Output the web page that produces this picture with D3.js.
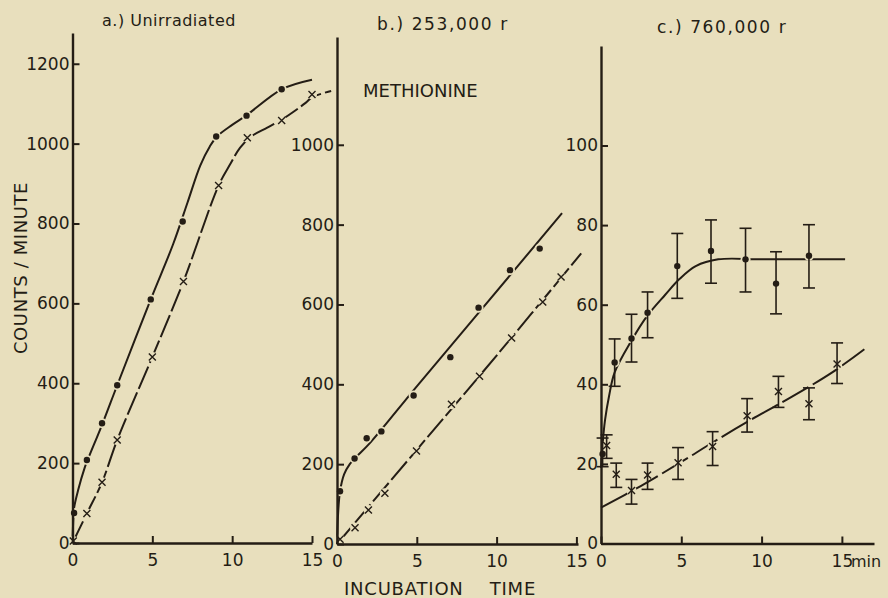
<!DOCTYPE html>
<html>
<head>
<meta charset="utf-8">
<script src="https://cdn.jsdelivr.net/npm/d3@7"></script>
<style>
  body { margin: 0; background: #e8dfbd; }
  svg { display: block; }
  text { font-family: "DejaVu Sans", sans-serif; fill: #241d15; }
</style>
</head>
<body>
<svg id="chart" width="888" height="598"></svg>
<script>
// ---- data (time in min, counts/minute) ----
// a.) Unirradiated
const aDotTime = [0.1, 0.9, 1.85, 2.8, 4.9, 6.9, 9.0, 10.9, 13.1];
const aDotCounts = [75, 208, 300, 395, 610, 805, 1018, 1070, 1136];
const aCrossTime = [0.05, 0.9, 1.85, 2.8, 5.0, 6.95, 9.15, 10.95, 13.1, 15.0];
const aCrossCounts = [5, 74, 152, 258, 466, 655, 895, 1015, 1058, 1123];
// hand drawn curves through the points (knots)
const aDotFitTime = [0, 0.04, 0.1, 0.35, 0.75, 0.95, 1.9, 2.8, 4.9, 6.3, 7.2, 8.0, 8.6, 9.05, 10, 10.9, 13.1, 15];
const aDotFitCounts = [0, 50, 88, 132, 187, 208, 301, 395, 610, 748, 852, 945, 993, 1018, 1047, 1071, 1136, 1160];
const aCrossFitTime = [0, 0.9, 1.85, 2.8, 5.0, 6.95, 9.15, 9.9, 10.5, 11.2, 12.2, 13.1, 14.6, 15.0, 16.2];
const aCrossFitCounts = [0, 74, 152, 258, 466, 655, 895, 950, 990, 1018, 1040, 1060, 1102, 1116, 1132];

// b.) 253,000 r
const bDotTime = [0.19, 1.1, 1.86, 2.78, 4.8, 7.1, 8.87, 10.84, 12.7];
const bDotCounts = [132, 214, 265, 282, 372, 468, 592, 686, 740];
const bCrossTime = [0.19, 1.13, 1.97, 3.0, 4.98, 7.17, 8.93, 10.94, 12.89, 14.04];
const bCrossCounts = [12, 41, 85, 127, 233, 350, 420, 516, 606, 669];
const bDotFitTime = [0, 0.06, 0.19, 0.45, 0.8, 1.2, 2, 5, 9, 14.1];
const bDotFitCounts = [0, 70, 132, 175, 200, 218, 250, 395, 585, 829];
const bCrossFitTime = [0, 5, 10, 15.3];
const bCrossFitCounts = [0, 236, 472, 728];

// c.) 760,000 r  (with error bars)
const cDotTime = [0.1, 0.85, 1.9, 2.9, 4.75, 6.85, 9.0, 10.9, 12.95];
const cDotCounts = [22.5, 45.5, 51.5, 58, 69.7, 73.5, 71.4, 65.3, 72.3];
const cDotLow = [19.3, 39.5, 45.6, 51.7, 61.6, 65.4, 63.2, 57.7, 64.2];
const cDotHigh = [26.5, 51.4, 57.6, 63.2, 77.9, 81.3, 79.2, 73.3, 80.1];
const cCrossTime = [0.35, 0.95, 1.9, 2.9, 4.8, 6.95, 9.1, 11.05, 12.95, 14.7];
const cCrossCounts = [24.6, 17.4, 13.3, 17.2, 20.3, 24.4, 32.1, 38.2, 35.1, 45.1];
const cCrossLow = [21.4, 14.1, 9.9, 13.6, 16.1, 19.6, 28.0, 34.2, 31.1, 40.2];
const cCrossHigh = [27.3, 20.2, 16.1, 20.2, 24.1, 28.1, 36.4, 42.0, 39.1, 50.4];
const cDotFitTime = [0, 0.1, 0.25, 0.5, 0.85, 1.9, 2.9, 4, 4.9, 5.9, 7.3, 10, 15.2];
const cDotFitCounts = [19, 25, 31, 37, 43, 51, 57.3, 62.5, 66.5, 69.7, 71.4, 71.4, 71.4];
const cCrossFitTime = [0, 2.5, 5, 7, 9.3, 11.6, 14.4, 16.4];
const cCrossFitCounts = [9, 14.5, 20.5, 25.5, 31, 36.2, 43, 48.8];

// tick labels
const timeTicks = [0, 5, 10, 15];
const countTicksA = [0, 200, 400, 600, 800, 1000, 1200];
const countTicksB = [0, 200, 400, 600, 800, 1000];
const countTicksC = [0, 20, 40, 60, 80, 100];

const ink = "#241d15";
const bg = "#e8dfbd";

const svg = d3.select("#chart");
svg.append("rect").attr("width", 888).attr("height", 598).attr("fill", bg);

const zip = (xs, ys) => xs.map((x, i) => [x, ys[i]]);

function drawPanel(p) {
    const g = svg.append("g");
    const line = d3.line()
        .x(d => p.x(d[0]))
        .y(d => p.y(d[1]))
        .curve(d3.curveCatmullRom.alpha(0.5));

    // fitted curves
    g.append("path")
        .attr("d", line(zip(p.dotFitTime, p.dotFitCounts)))
        .attr("fill", "none").attr("stroke", ink).attr("stroke-width", 2);
    g.append("path")
        .attr("d", line(zip(p.crossFitTime, p.crossFitCounts)))
        .attr("fill", "none").attr("stroke", ink).attr("stroke-width", 2)
        .attr("stroke-dasharray", p.dash);

    const dots = zip(p.dotTime, p.dotCounts);
    const crosses = zip(p.crossTime, p.crossCounts);

    // little gaps in the curves around the marks
    g.selectAll(".halo")
        .data(dots.concat(crosses))
        .enter().append("circle")
        .attr("cx", d => p.x(d[0]))
        .attr("cy", d => p.y(d[1]))
        .attr("r", 5)
        .attr("fill", bg);

    // error bars
    if (p.dotLow) {
        const bars = zip(p.dotTime, p.dotLow).map((d, i) => [d[0], d[1], p.dotHigh[i]])
            .concat(zip(p.crossTime, p.crossLow).map((d, i) => [d[0], d[1], p.crossHigh[i]]));
        const eb = g.selectAll(".err").data(bars).enter().append("g")
            .attr("stroke", ink).attr("stroke-width", 1.6);
        eb.append("line")
            .attr("x1", d => p.x(d[0])).attr("x2", d => p.x(d[0]))
            .attr("y1", d => p.y(d[1])).attr("y2", d => p.y(d[2]));
        eb.append("line")
            .attr("x1", d => p.x(d[0]) - 6).attr("x2", d => p.x(d[0]) + 6)
            .attr("y1", d => p.y(d[1])).attr("y2", d => p.y(d[1]));
        eb.append("line")
            .attr("x1", d => p.x(d[0]) - 6).attr("x2", d => p.x(d[0]) + 6)
            .attr("y1", d => p.y(d[2])).attr("y2", d => p.y(d[2]));
    }

    g.selectAll(".dot")
        .data(dots)
        .enter().append("circle")
        .attr("cx", d => p.x(d[0]))
        .attr("cy", d => p.y(d[1]))
        .attr("r", 3.2)
        .attr("fill", ink);

    g.selectAll(".cross")
        .data(crosses)
        .enter().append("path")
        .attr("transform", d => `translate(${p.x(d[0])},${p.y(d[1])})`)
        .attr("d", "M-3.5,-3.5L3.5,3.5M-3.5,3.5L3.5,-3.5")
        .attr("stroke", ink).attr("stroke-width", 1.4);

    // axes
    const xAxis = g.append("g")
        .attr("transform", `translate(0,${p.y(0)})`)
        .call(d3.axisBottom(p.x).tickValues(timeTicks).tickFormat(d3.format("d"))
            .tickSizeInner(-7).tickSizeOuter(0).tickPadding(11));
    const yAxis = g.append("g")
        .attr("transform", `translate(${p.x(0)},0)`)
        .call(d3.axisLeft(p.y).tickValues(p.yTicks).tickFormat(d3.format("d"))
            .tickSizeInner(-7).tickSizeOuter(0).tickPadding(3));

    [xAxis, yAxis].forEach(ax => {
        ax.select(".domain").attr("stroke", ink).attr("stroke-width", 2.4);
        ax.selectAll(".tick line").attr("stroke", ink).attr("stroke-width", 2);
        ax.selectAll(".tick text")
            .attr("fill", ink)
            .style("font-size", "17px")
            .style("font-family", "DejaVu Sans, sans-serif");
    });
    return g;
}

// ---- scales ----
const xA = d3.scaleLinear().domain([0, 15]).range([72.5, 312]);
const yA = d3.scaleLinear().domain([0, 1277]).range([543, 33]);
const xB = d3.scaleLinear().domain([0, 15.1]).range([337, 578]);
const yB = d3.scaleLinear().domain([0, 1270]).range([544, 37]);
const xC = d3.scaleLinear().domain([0, 17]).range([601, 874]);
const yC = d3.scaleLinear().domain([0, 125]).range([543.5, 46]);

drawPanel({
    x: xA, y: yA, yTicks: countTicksA, dash: "24,4",
    dotTime: aDotTime, dotCounts: aDotCounts,
    crossTime: aCrossTime, crossCounts: aCrossCounts,
    dotFitTime: aDotFitTime, dotFitCounts: aDotFitCounts,
    crossFitTime: aCrossFitTime, crossFitCounts: aCrossFitCounts
});
drawPanel({
    x: xB, y: yB, yTicks: countTicksB, dash: "24,4",
    dotTime: bDotTime, dotCounts: bDotCounts,
    crossTime: bCrossTime, crossCounts: bCrossCounts,
    dotFitTime: bDotFitTime, dotFitCounts: bDotFitCounts,
    crossFitTime: bCrossFitTime, crossFitCounts: bCrossFitCounts
});
drawPanel({
    x: xC, y: yC, yTicks: countTicksC, dash: "30,5",
    dotTime: cDotTime, dotCounts: cDotCounts,
    dotLow: cDotLow, dotHigh: cDotHigh,
    crossTime: cCrossTime, crossCounts: cCrossCounts,
    crossLow: cCrossLow, crossHigh: cCrossHigh,
    dotFitTime: cDotFitTime, dotFitCounts: cDotFitCounts,
    crossFitTime: cCrossFitTime, crossFitCounts: cCrossFitCounts
});

// ---- titles and labels ----
svg.append("text").attr("x", 102).attr("y", 26)
    .style("font-size", "16px").style("letter-spacing", "0.5px").text("a.) Unirradiated");
svg.append("text").attr("x", 377).attr("y", 30)
    .style("font-size", "17px").style("letter-spacing", "1.6px").text("b.) 253,000 r");
svg.append("text").attr("x", 657).attr("y", 33)
    .style("font-size", "17px").style("letter-spacing", "1.6px").text("c.) 760,000 r");
svg.append("text").attr("x", 363).attr("y", 97).style("font-size", "18px").text("METHIONINE");

svg.append("text")
    .attr("transform", "translate(27,268) rotate(-90)")
    .attr("text-anchor", "middle")
    .style("font-size", "18px")
    .style("letter-spacing", "0.6px")
    .text("COUNTS / MINUTE");

svg.append("text")
    .attr("x", 440).attr("y", 595)
    .attr("text-anchor", "middle")
    .style("font-size", "18px")
    .style("letter-spacing", "0.8px")
    .style("white-space", "pre")
    .text("INCUBATION    TIME");

svg.append("text")
    .attr("x", 851).attr("y", yC(0) + 11 + 17 * 0.71)
    .style("font-size", "16px")
    .text("min");
</script>
</body>
</html>
